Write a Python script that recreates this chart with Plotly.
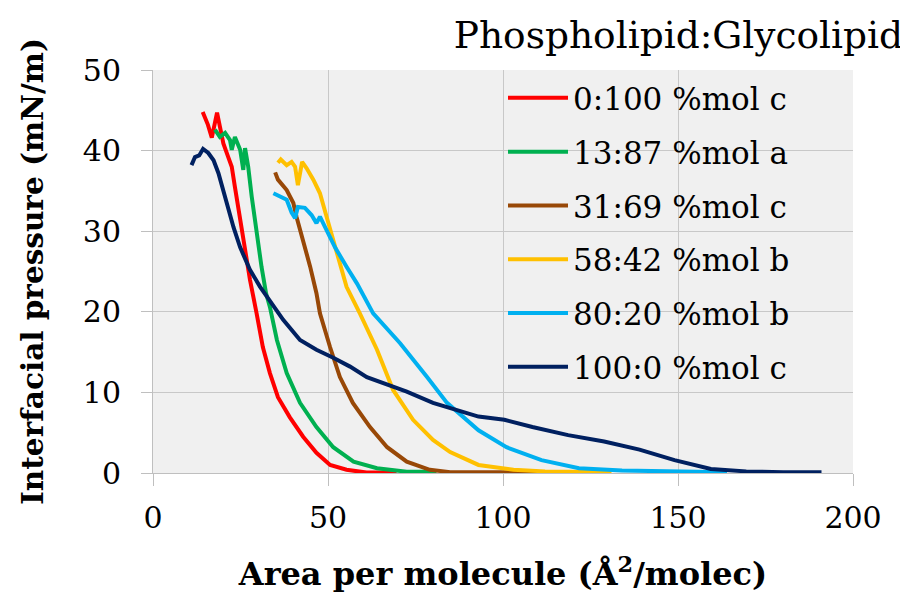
import plotly.graph_objects as go

names = ["0:100 %mol c", "13:87 %mol a", "31:69 %mol c", "58:42 %mol b", "80:20 %mol b", "100:0 %mol c"]
colors = ["#FF0000", "#00B050", "#984807", "#FFC000", "#00B0F0", "#002060"]

x_red = [14.2, 15.7, 16.8, 18.3, 19.1, 20.1, 21.5, 22.5, 23.4, 24.9, 26.3, 27.7, 29.6, 31.4, 33.4, 35.7, 39.1, 42.9, 46.7, 50.6, 55.3, 61.0, 69.6]
y_red = [44.8, 43.2, 41.6, 44.7, 43.0, 40.9, 39.2, 38.0, 35.5, 31.4, 27.7, 24.0, 19.8, 15.6, 12.4, 9.4, 6.9, 4.5, 2.5, 1.0, 0.4, 0.05, 0.05]

x_green = [17.7, 19.1, 20.6, 22.0, 22.5, 23.4, 24.9, 25.8, 26.3, 27.2, 28.2, 29.6, 31.0, 32.3, 33.4, 35.4, 38.2, 42.0, 46.7, 51.5, 57.3, 64.0, 72.5, 81.0]
y_green = [42.6, 41.7, 42.2, 41.3, 40.1, 41.7, 40.1, 37.6, 40.3, 38.0, 34.3, 29.8, 25.6, 22.3, 20.6, 16.5, 12.4, 8.7, 5.7, 3.2, 1.4, 0.6, 0.15, 0.15]

x_brown = [34.9, 35.7, 38.2, 40.1, 41.0, 42.9, 44.9, 46.7, 47.7, 50.6, 53.4, 57.1, 62.0, 66.9, 72.5, 79.1, 84.9, 95, 105, 116.6]
y_brown = [37.3, 36.4, 35.1, 33.5, 31.8, 28.9, 25.6, 22.3, 19.8, 15.6, 11.9, 8.7, 5.7, 3.2, 1.4, 0.4, 0.1, 0.1, 0.1, 0.1]

x_yellow = [35.7, 36.5, 38.2, 39.6, 40.6, 41.4, 42.6, 43.9, 45.8, 47.7, 49.6, 51.5, 53.4, 55.3, 59.1, 64.0, 68.6, 74.3, 80.0, 84.9, 93.0, 103, 112, 122, 131]
y_yellow = [38.5, 38.9, 38.2, 38.6, 38.0, 35.7, 38.6, 37.8, 36.4, 34.7, 31.8, 28.9, 26.0, 23.1, 19.8, 15.3, 10.3, 6.6, 4.1, 2.6, 1.0, 0.4, 0.2, 0.15, 0.1]

x_blue = [34.4, 36.3, 38.2, 39.6, 40.6, 41.4, 43.4, 45.3, 46.7, 47.7, 49.6, 52.0, 55.3, 58.3, 62.9, 70.6, 78.3, 84.0, 93, 101, 111, 121.7, 134, 145, 154, 164]
y_blue = [34.7, 34.3, 33.9, 32.3, 31.6, 33.0, 32.9, 32.0, 31.0, 31.8, 30.2, 28.0, 25.6, 23.5, 19.8, 16.1, 11.9, 8.7, 5.3, 3.2, 1.6, 0.6, 0.3, 0.2, 0.1, 0.1]

x_navy = [11.0, 12.0, 13.2, 14.3, 15.8, 17.3, 18.7, 20.0, 21.5, 23.0, 24.9, 27.7, 30.6, 32.5, 37.2, 42.0, 46.7, 51.5, 56.3, 61.1, 65.7, 72.5, 80.0, 84.9, 93, 100.4, 108.4, 118.6, 128.9, 139, 149, 159.4, 169.5, 180, 191]
y_navy = [38.2, 39.2, 39.4, 40.2, 39.7, 38.8, 37.2, 35.1, 32.6, 30.5, 28.0, 25.2, 23.1, 21.9, 19.0, 16.5, 15.3, 14.3, 13.2, 11.9, 11.2, 10.1, 8.7, 8.1, 7.0, 6.6, 5.7, 4.7, 3.9, 2.9, 1.6, 0.5, 0.2, 0.1, 0.1]

xs = [x_red, x_green, x_brown, x_yellow, x_blue, x_navy]
ys = [y_red, y_green, y_brown, y_yellow, y_blue, y_navy]

x_ticks = [0, 50, 100, 150, 200]
y_ticks = [0, 10, 20, 30, 40, 50]

FONT = "DejaVu Serif"
W, H = 900, 585  # page body has an 8px margin

fig = go.Figure()
for i in range(6):
    fig.add_trace(go.Scatter(x=xs[i], y=ys[i], mode="lines", name=names[i],
                             legendgroup=f"g{i}",
                             line=dict(color=colors[i], width=4)))

fig.update_layout(
    width=W, height=H,
    margin=dict(l=145, r=55, t=62, b=120),
    paper_bgcolor="white", plot_bgcolor="#f0f0f0",
    font=dict(family=FONT, color="black", size=30),
    title=dict(text="Phospholipid:Glycolipid", xref="container", yref="container",
               x=895 / W, xanchor="right", y=1 - 27 / H, yanchor="middle",
               font=dict(family=FONT, size=37.5, color="black")),
    legend=dict(x=0.5, y=0.997, xanchor="left", yanchor="top",
                bgcolor="rgba(0,0,0,0)", borderwidth=0,
                font=dict(family=FONT, size=31, color="black"),
                tracegroupgap=10.5, itemwidth=60),
    xaxis=dict(range=[0, 200], tickvals=x_ticks, showgrid=True, gridcolor="#c8c8c8", gridwidth=1,
               zeroline=False, showline=True, linecolor="#bfbfbf", linewidth=1,
               ticks="outside", ticklen=12, tickcolor="#bfbfbf", automargin=False,
               tickfont=dict(family=FONT, size=30, color="black"),
               ticklabelstandoff=6,
               title=dict(text="<b>Area per molecule (Å<sup>2</sup>/molec)</b>", standoff=33,
                          font=dict(family=FONT, size=32, color="black"))),
    yaxis=dict(range=[0, 50], tickvals=y_ticks, showgrid=True, gridcolor="#c8c8c8", gridwidth=1,
               zeroline=False, showline=True, linecolor="#bfbfbf", linewidth=1,
               ticks="outside", ticklen=11, tickcolor="#bfbfbf", automargin=False,
               tickfont=dict(family=FONT, size=30, color="black"),
               ticklabelstandoff=14,
               title=dict(text="<b>Interfacial pressure (mN/m)</b>", standoff=30,
                          font=dict(family=FONT, size=29.5, color="black"))),
)

fig.write_html("out.html")
